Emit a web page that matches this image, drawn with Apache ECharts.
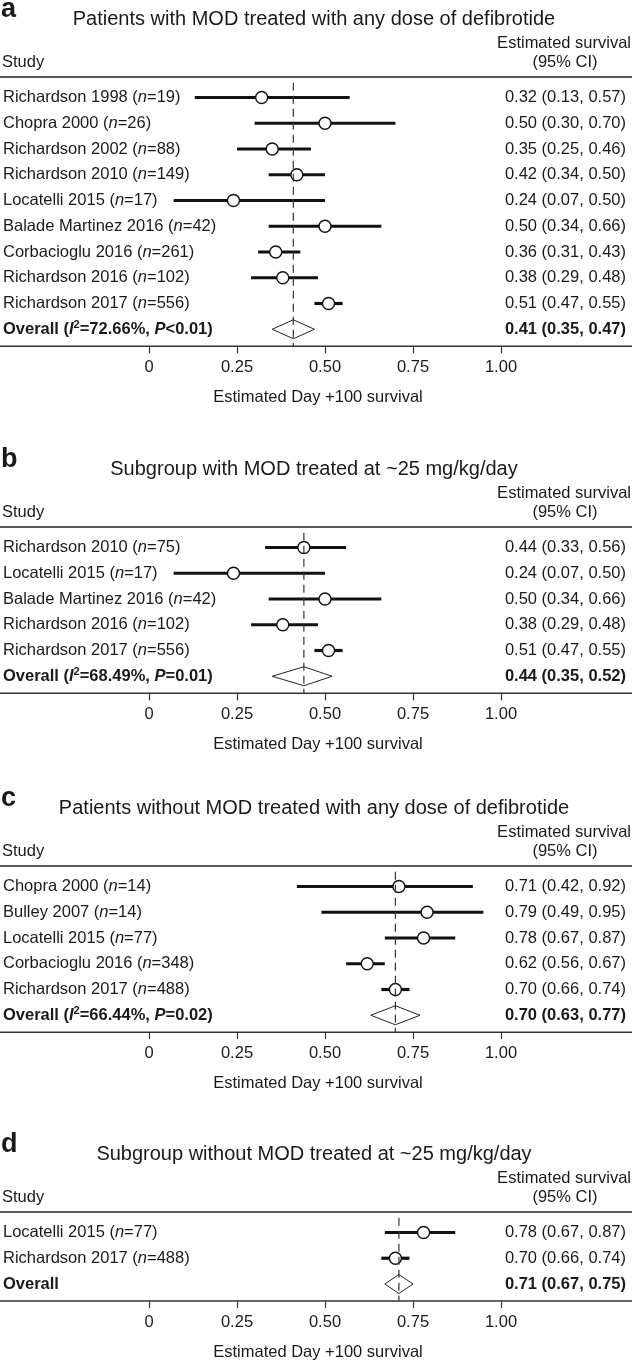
<!DOCTYPE html>
<html>
<head>
<meta charset="utf-8">
<script src="https://cdn.jsdelivr.net/npm/echarts@6/dist/echarts.min.js"></script>
<style>
html,body{margin:0;padding:0;background:#fff;}
#chart{width:632px;height:1361px;}
</style>
</head>
<body>
<div id="chart"></div>
<script>
// ---------- data ----------
const tickLabels = ['0', '0.25', '0.50', '0.75', '1.00'];

const aStudy = ['Richardson 1998', 'Chopra 2000', 'Richardson 2002', 'Richardson 2010', 'Locatelli 2015', 'Balade Martinez 2016', 'Corbacioglu 2016', 'Richardson 2016', 'Richardson 2017'];
const aN   = [19, 26, 88, 149, 17, 42, 261, 102, 556];
const aEst = [0.32, 0.50, 0.35, 0.42, 0.24, 0.50, 0.36, 0.38, 0.51];
const aLo  = [0.13, 0.30, 0.25, 0.34, 0.07, 0.34, 0.31, 0.29, 0.47];
const aHi  = [0.57, 0.70, 0.46, 0.50, 0.50, 0.66, 0.43, 0.48, 0.55];
const aOverall = [0.41, 0.35, 0.47];
const aI2 = '72.66%', aP = '<0.01';

const bStudy = ['Richardson 2010', 'Locatelli 2015', 'Balade Martinez 2016', 'Richardson 2016', 'Richardson 2017'];
const bN   = [75, 17, 42, 102, 556];
const bEst = [0.44, 0.24, 0.50, 0.38, 0.51];
const bLo  = [0.33, 0.07, 0.34, 0.29, 0.47];
const bHi  = [0.56, 0.50, 0.66, 0.48, 0.55];
const bOverall = [0.44, 0.35, 0.52];
const bI2 = '68.49%', bP = '=0.01';

const cStudy = ['Chopra 2000', 'Bulley 2007', 'Locatelli 2015', 'Corbacioglu 2016', 'Richardson 2017'];
const cN   = [14, 14, 77, 348, 488];
const cEst = [0.71, 0.79, 0.78, 0.62, 0.70];
const cLo  = [0.42, 0.49, 0.67, 0.56, 0.66];
const cHi  = [0.92, 0.95, 0.87, 0.67, 0.74];
const cOverall = [0.70, 0.63, 0.77];
const cI2 = '66.44%', cP = '=0.02';

const dStudy = ['Locatelli 2015', 'Richardson 2017'];
const dN   = [77, 488];
const dEst = [0.78, 0.70];
const dLo  = [0.67, 0.66];
const dHi  = [0.87, 0.74];
const dOverall = [0.71, 0.67, 0.75];
const dI2 = null, dP = null;

// ---------- layout ----------
const FONT = '"Liberation Sans", Arial, Helvetica, sans-serif';
const INK = '#1a1a1a';
const FS = 16.5;
const ROW = 25.75;
const X0 = 148, X1 = 501;

const panels = [
  {L: 77,   letter: 'a', title: 'Patients with MOD treated with any dose of defibrotide', s: aStudy, n: aN, e: aEst, lo: aLo, hi: aHi, o: aOverall, i2: aI2, p: aP},
  {L: 527,  letter: 'b', title: 'Subgroup with MOD treated at ~25 mg/kg/day', s: bStudy, n: bN, e: bEst, lo: bLo, hi: bHi, o: bOverall, i2: bI2, p: bP},
  {L: 866,  letter: 'c', title: 'Patients without MOD treated with any dose of defibrotide', s: cStudy, n: cN, e: cEst, lo: cLo, hi: cHi, o: cOverall, i2: cI2, p: cP},
  {L: 1212, letter: 'd', title: 'Subgroup without MOD treated at ~25 mg/kg/day', s: dStudy, n: dN, e: dEst, lo: dLo, hi: dHi, o: dOverall, i2: dI2, p: dP}
];

const fmt2 = v => v.toFixed(2);
const rich = {
  r:  {fontSize: FS, fontFamily: FONT, color: INK, lineHeight: 20},
  i:  {fontSize: FS, fontFamily: FONT, color: INK, lineHeight: 20, fontStyle: 'italic'},
  b:  {fontSize: FS, fontFamily: FONT, color: INK, lineHeight: 20, fontWeight: 'bold'},
  bi: {fontSize: FS, fontFamily: FONT, color: INK, lineHeight: 20, fontWeight: 'bold', fontStyle: 'italic'},
  sup:{fontSize: 11, fontFamily: FONT, color: INK, lineHeight: 10, fontWeight: 'bold', verticalAlign: 'top'}
};

const grids = [], xAxes = [], yAxes = [], series = [], graphics = [];

panels.forEach((P, k) => {
  const nRows = P.s.length + 1;
  const first = P.L + 20.5;
  const top = first - ROW / 2;
  const height = nRows * ROW;
  const overallY = first + (nRows - 1) * ROW;
  const axisY = overallY + 17;
  const cats = Array.from({length: nRows}, (_, i) => String(i));

  grids.push({left: X0, width: X1 - X0, top: top, height: height});

  xAxes.push({
    type: 'value', gridIndex: k, min: 0, max: 1, interval: 0.25,
    offset: axisY - (top + height),
    axisLine: {show: false},
    axisTick: {show: true, length: 7, lineStyle: {color: '#333', width: 1.2}},
    splitLine: {show: false},
    axisLabel: {margin: 13, fontSize: FS, fontFamily: FONT, color: INK,
      formatter: (v, idx) => tickLabels[idx]}
  });

  const leftLabel = (v) => {
    const i = Number(v);
    if (i < P.s.length) return '{r|' + P.s[i] + ' (}{i|n}{r|=' + P.n[i] + ')}';
    if (P.i2 === null) return '{b|Overall}';
    return '{b|Overall (}{bi|I}{sup|2}{b|=' + P.i2 + ', }{bi|P}{b|' + P.p + ')}';
  };
  const rightLabel = (v) => {
    const i = Number(v);
    if (i < P.s.length) return '{r|' + fmt2(P.e[i]) + ' (' + fmt2(P.lo[i]) + ', ' + fmt2(P.hi[i]) + ')}';
    return '{b|' + fmt2(P.o[0]) + ' (' + fmt2(P.o[1]) + ', ' + fmt2(P.o[2]) + ')}';
  };

  yAxes.push({
    type: 'category', gridIndex: k, data: cats, inverse: true, position: 'left',
    axisLine: {show: false}, axisTick: {show: false}, splitLine: {show: false},
    axisLabel: {interval: 0, align: 'left', margin: X0 - 2, formatter: leftLabel, rich: rich}
  });
  yAxes.push({
    type: 'category', gridIndex: k, data: cats, inverse: true, position: 'right',
    axisLine: {show: false}, axisTick: {show: false}, splitLine: {show: false},
    axisLabel: {interval: 0, align: 'right', margin: 626 - X1, formatter: rightLabel, rich: rich}
  });

  const yIdx = k * 2;

  // confidence interval lines: [lower, row, upper]
  series.push({
    type: 'custom', xAxisIndex: k, yAxisIndex: yIdx, z: 2,
    data: P.s.map((_, i) => [P.lo[i], i, P.hi[i]]),
    renderItem: (params, api) => {
      const a = api.coord([api.value(0), api.value(1)]);
      const b = api.coord([api.value(2), api.value(1)]);
      return {type: 'line', shape: {x1: a[0], y1: a[1], x2: b[0], y2: b[1]},
        style: {stroke: '#111', lineWidth: 3.2}};
    }
  });
  // point estimates
  series.push({
    type: 'scatter', xAxisIndex: k, yAxisIndex: yIdx, z: 3,
    data: P.e.map((v, i) => [v, i]),
    symbol: 'circle', symbolSize: 12,
    itemStyle: {color: '#fff', borderColor: '#111', borderWidth: 1.4, opacity: 1}
  });
  // overall diamond + dashed reference line at the pooled estimate: [est, row, lower, upper]
  series.push({
    type: 'custom', xAxisIndex: k, yAxisIndex: yIdx, z: 4,
    data: [[P.o[0], nRows - 1, P.o[1], P.o[2]]],
    renderItem: (params, api) => {
      const yv = api.value(1);
      const c = api.coord([api.value(0), yv]);
      const l = api.coord([api.value(2), yv]);
      const r = api.coord([api.value(3), yv]);
      const cs = params.coordSys;
      return {type: 'group', children: [
        {type: 'line', shape: {x1: c[0], y1: cs.y - 2, x2: c[0], y2: cs.y + cs.height + 4},
          style: {stroke: '#333', lineWidth: 1.2, lineDash: [8, 5]}},
        {type: 'polygon',
          shape: {points: [[l[0], c[1]], [c[0], c[1] - 9.5], [r[0], c[1]], [c[0], c[1] + 9.5]]},
          style: {fill: 'none', stroke: '#222', lineWidth: 1}}
      ]};
    }
  });

  // decorative text and rules
  const txt = (x, y, text, opt) => graphics.push({
    type: 'text', silent: true,
    style: Object.assign({x: x, y: y, text: text, fill: INK, fontFamily: FONT, fontSize: FS,
      align: 'left', verticalAlign: 'middle'}, opt || {})
  });
  txt(1, P.L - 67, P.letter, {fontSize: 27, fontWeight: 'bold'});
  txt(314, P.L - 58, P.title, {fontSize: 20, align: 'center'});
  txt(631, P.L - 34, 'Estimated survival', {align: 'right'});
  txt(2, P.L - 15, 'Study');
  txt(565, P.L - 15, '(95% CI)', {align: 'center'});
  txt(318, axisY + 51, 'Estimated Day +100 survival', {align: 'center'});
  graphics.push({type: 'line', silent: true, shape: {x1: 0, y1: P.L, x2: 632, y2: P.L},
    style: {stroke: '#222', lineWidth: 1.3}});
  graphics.push({type: 'line', silent: true, shape: {x1: 0, y1: axisY, x2: 632, y2: axisY},
    style: {stroke: '#333', lineWidth: 1.4}});
});

const chart = echarts.init(document.getElementById('chart'), null, {renderer: 'canvas'});
chart.setOption({
  backgroundColor: '#fff',
  animation: false,
  grid: grids,
  xAxis: xAxes,
  yAxis: yAxes,
  series: series,
  graphic: graphics
});
</script>
</body>
</html>
